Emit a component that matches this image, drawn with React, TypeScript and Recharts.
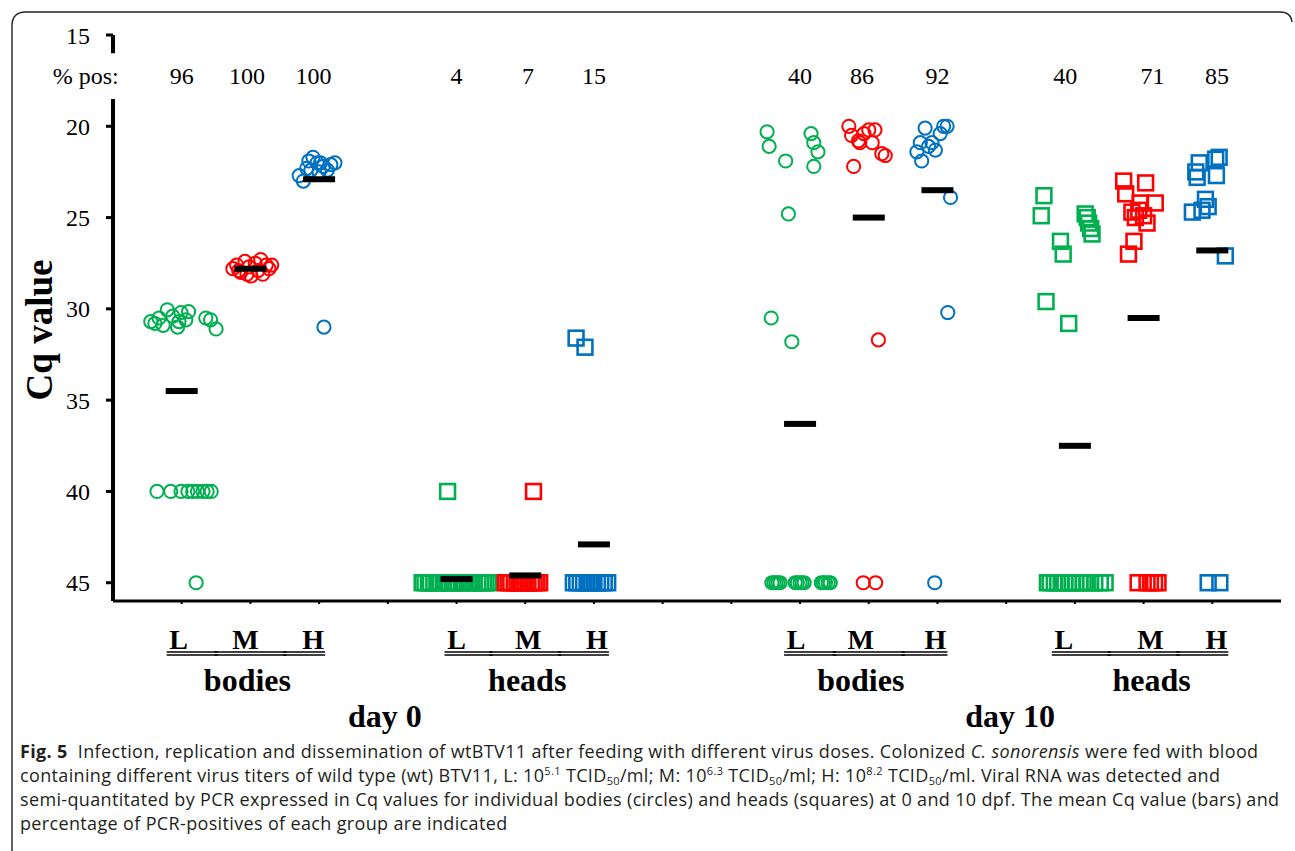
import React from "react";
import { ScatterChart, Scatter, XAxis, YAxis, ReferenceLine } from "recharts";

type Pt = { x: number; y: number };

const GREEN = "#00b050";
const RED = "#ff0000";
const BLUE = "#0070c0";
const SERIF = '"Liberation Serif", "Times New Roman", serif';

// day 0 - bodies (circles)
const d0BodyL: Pt[] = [
  { x: 0.55, y: 30.7 }, { x: 0.61, y: 30.8 }, { x: 0.67, y: 30.5 }, { x: 0.73, y: 30.9 },
  { x: 0.79, y: 30.05 }, { x: 0.87, y: 30.4 }, { x: 0.94, y: 31.0 }, { x: 0.96, y: 30.7 },
  { x: 0.99, y: 30.2 }, { x: 1.06, y: 30.6 }, { x: 1.1, y: 30.15 }, { x: 1.35, y: 30.5 },
  { x: 1.42, y: 30.6 }, { x: 1.5, y: 31.1 },
  { x: 0.64, y: 40 }, { x: 0.84, y: 40 }, { x: 0.99, y: 40 }, { x: 1.09, y: 40 }, { x: 1.16, y: 40 },
  { x: 1.23, y: 40 }, { x: 1.31, y: 40 }, { x: 1.37, y: 40 }, { x: 1.43, y: 40 },
  { x: 1.21, y: 45 },
];
const d0BodyM: Pt[] = [
  { x: 1.745, y: 27.8 }, { x: 1.8, y: 27.6 }, { x: 1.83, y: 27.9 }, { x: 1.86, y: 28.0 },
  { x: 1.92, y: 27.4 }, { x: 1.95, y: 28.1 }, { x: 1.98, y: 27.7 }, { x: 2.01, y: 28.2 },
  { x: 2.07, y: 27.5 }, { x: 2.11, y: 27.9 }, { x: 2.15, y: 27.3 }, { x: 2.18, y: 28.1 },
  { x: 2.23, y: 27.6 }, { x: 2.27, y: 27.8 }, { x: 2.31, y: 27.6 },
];
const d0BodyH: Pt[] = [
  { x: 2.71, y: 22.7 }, { x: 2.77, y: 23.0 }, { x: 2.82, y: 22.3 }, { x: 2.85, y: 21.9 },
  { x: 2.88, y: 22.4 }, { x: 2.91, y: 21.7 }, { x: 2.97, y: 22.0 }, { x: 3.0, y: 22.5 },
  { x: 3.02, y: 22.0 }, { x: 3.06, y: 22.2 }, { x: 3.12, y: 22.4 }, { x: 3.17, y: 22.1 },
  { x: 3.23, y: 22.0 }, { x: 3.07, y: 31.0 },
];

// day 0 - heads (squares)
const d0HeadL: Pt[] = [
  { x: 4.87, y: 40 },
  { x: 4.5, y: 45 }, { x: 4.54, y: 45 }, { x: 4.59, y: 45 }, { x: 4.62, y: 45 }, { x: 4.67, y: 45 },
  { x: 4.72, y: 45 }, { x: 4.76, y: 45 }, { x: 4.81, y: 45 }, { x: 4.86, y: 45 }, { x: 4.89, y: 45 },
  { x: 4.94, y: 45 }, { x: 4.99, y: 45 }, { x: 5.03, y: 45 }, { x: 5.08, y: 45 }, { x: 5.12, y: 45 },
  { x: 5.17, y: 45 }, { x: 5.21, y: 45 }, { x: 5.26, y: 45 }, { x: 5.31, y: 45 }, { x: 5.35, y: 45 },
  { x: 5.39, y: 45 }, { x: 5.43, y: 45 }, { x: 5.47, y: 45 },
];
const d0HeadM: Pt[] = [
  { x: 6.12, y: 40 },
  { x: 5.71, y: 45 }, { x: 5.75, y: 45 }, { x: 5.79, y: 45 }, { x: 5.84, y: 45 }, { x: 5.88, y: 45 },
  { x: 5.92, y: 45 }, { x: 5.96, y: 45 }, { x: 6.0, y: 45 }, { x: 6.04, y: 45 }, { x: 6.09, y: 45 },
  { x: 6.13, y: 45 }, { x: 6.17, y: 45 }, { x: 6.21, y: 45 },
];
const d0HeadH: Pt[] = [
  { x: 6.74, y: 31.6 }, { x: 6.87, y: 32.1 },
  { x: 6.7, y: 45 }, { x: 6.75, y: 45 }, { x: 6.8, y: 45 }, { x: 6.85, y: 45 }, { x: 6.9, y: 45 },
  { x: 6.95, y: 45 }, { x: 7.0, y: 45 }, { x: 7.05, y: 45 }, { x: 7.1, y: 45 }, { x: 7.15, y: 45 },
  { x: 7.2, y: 45 },
];

// day 10 - bodies (circles)
const d10BodyL: Pt[] = [
  { x: 9.52, y: 20.3 }, { x: 9.55, y: 21.1 }, { x: 9.79, y: 21.9 }, { x: 10.16, y: 20.4 },
  { x: 10.2, y: 20.9 }, { x: 10.26, y: 21.4 }, { x: 10.2, y: 22.2 }, { x: 9.83, y: 24.8 },
  { x: 9.58, y: 30.5 }, { x: 9.88, y: 31.8 },
  { x: 9.59, y: 45 }, { x: 9.62, y: 45 }, { x: 9.65, y: 45 }, { x: 9.68, y: 45 }, { x: 9.71, y: 45 },
  { x: 9.93, y: 45 }, { x: 9.96, y: 45 }, { x: 10.0, y: 45 }, { x: 10.03, y: 45 }, { x: 10.06, y: 45 },
  { x: 10.31, y: 45 }, { x: 10.34, y: 45 }, { x: 10.37, y: 45 }, { x: 10.41, y: 45 }, { x: 10.44, y: 45 },
];
const d10BodyM: Pt[] = [
  { x: 10.71, y: 20.0 }, { x: 10.75, y: 20.5 }, { x: 10.78, y: 22.2 }, { x: 10.85, y: 20.8 },
  { x: 10.87, y: 20.9 }, { x: 10.93, y: 20.4 }, { x: 11.0, y: 20.2 }, { x: 11.05, y: 20.9 },
  { x: 11.09, y: 20.2 }, { x: 11.14, y: 31.7 }, { x: 11.19, y: 21.5 }, { x: 11.24, y: 21.6 },
  { x: 10.92, y: 45 }, { x: 11.1, y: 45 },
];
const d10BodyH: Pt[] = [
  { x: 11.7, y: 21.4 }, { x: 11.75, y: 20.9 }, { x: 11.77, y: 21.9 }, { x: 11.82, y: 20.1 },
  { x: 11.87, y: 21.1 }, { x: 11.92, y: 20.9 }, { x: 11.97, y: 21.3 }, { x: 12.04, y: 20.4 },
  { x: 12.09, y: 20.0 }, { x: 12.14, y: 20.0 }, { x: 12.15, y: 30.2 }, { x: 12.19, y: 23.9 },
  { x: 11.96, y: 45 },
];

// day 10 - heads (squares)
const d10HeadL: Pt[] = [
  { x: 13.51, y: 24.9 }, { x: 13.55, y: 23.8 }, { x: 13.58, y: 29.6 }, { x: 13.79, y: 26.3 },
  { x: 13.83, y: 27.0 }, { x: 13.91, y: 30.8 }, { x: 14.15, y: 24.8 }, { x: 14.18, y: 25.0 },
  { x: 14.2, y: 25.3 }, { x: 14.23, y: 25.6 }, { x: 14.25, y: 25.9 },
  { x: 13.6, y: 45 }, { x: 13.64, y: 45 }, { x: 13.7, y: 45 }, { x: 13.75, y: 45 }, { x: 13.8, y: 45 },
  { x: 13.85, y: 45 }, { x: 13.91, y: 45 }, { x: 13.96, y: 45 }, { x: 14.01, y: 45 }, { x: 14.07, y: 45 },
  { x: 14.12, y: 45 }, { x: 14.18, y: 45 }, { x: 14.23, y: 45 }, { x: 14.29, y: 45 }, { x: 14.37, y: 45 },
  { x: 14.44, y: 45 },
];
const d10HeadM: Pt[] = [
  { x: 14.71, y: 23.0 }, { x: 14.74, y: 23.7 }, { x: 14.78, y: 27.0 }, { x: 14.83, y: 24.7 },
  { x: 14.86, y: 26.3 }, { x: 14.88, y: 25.0 }, { x: 14.93, y: 24.6 }, { x: 14.95, y: 24.2 },
  { x: 15.0, y: 24.9 }, { x: 15.03, y: 23.1 }, { x: 15.05, y: 25.3 }, { x: 15.17, y: 24.2 },
  { x: 14.92, y: 45 }, { x: 15.05, y: 45 }, { x: 15.1, y: 45 }, { x: 15.16, y: 45 }, { x: 15.21, y: 45 },
];
const d10HeadH: Pt[] = [
  { x: 15.71, y: 24.7 }, { x: 15.76, y: 22.5 }, { x: 15.78, y: 22.8 }, { x: 15.81, y: 22.0 },
  { x: 15.85, y: 24.6 }, { x: 15.9, y: 24.0 }, { x: 15.94, y: 24.4 }, { x: 16.05, y: 21.8 },
  { x: 16.06, y: 22.7 }, { x: 16.1, y: 21.7 }, { x: 16.19, y: 27.1 },
  { x: 15.94, y: 45 }, { x: 16.11, y: 45 },
];

// group means (bars)
const MEAN_X = [1, 2, 3, 5, 6, 7, 10, 11, 12, 14, 15, 16];
const MEAN_CQ = [34.5, 27.8, 22.9, 44.8, 44.6, 42.9, 36.3, 25.0, 23.5, 37.5, 30.5, 26.8];

// % positive row
const POS_X = [1, 1.95, 2.92, 5.0, 6.04, 7.0, 10.0, 10.9, 12.0, 13.86, 15.13, 16.07];
const POS_LABELS = ["96", "100", "100", "4", "7", "15", "40", "86", "92", "40", "71", "85"];
const POS_ROW_CQ = 17.25;

// axis labels
const X_TICKS = [1, 2, 3, 4, 5, 6, 7, 8, 9, 10, 11, 12, 13, 14, 15, 16];
const Y_TICKS = [15, 20, 25, 30, 35, 40, 45];
const DOSE_TICKS = [1, 2, 3, 5, 6, 7, 10, 11, 12, 14, 15, 16];
const DOSE_NAMES = ["L", "M", "H", "L", "M", "H", "L", "M", "H", "L", "M", "H"];
const GROUP_TICKS = [2, 6, 11, 15];
const GROUP_NAMES = ["bodies", "heads", "bodies", "heads"];
const DAY_TICKS = [4, 13];
const DAY_NAMES = ["day 0", "day 10"];

// small pixel nudges so labels sit where the original put them
const DOSE_DX = [-3, -5, -6, 0, 3, 3, -4, -8, -2, -11, 7, 4];
const GROUP_DX = [-3, 2, -8, 8];
const DAY_DX = [-3, 4];

const meanData = MEAN_X.map((x, i) => ({ x, y: MEAN_CQ[i] }));
const posData = POS_X.map((x, i) => ({ x, y: POS_ROW_CQ, pct: POS_LABELS[i], lead: i === 0 }));

const circle = (color: string) => (p: any) => (
  <circle cx={p.cx} cy={p.cy} r={6.6} fill="none" stroke={color} strokeWidth={2} />
);
const square = (color: string) => (p: any) => (
  <rect x={p.cx - 7.4} y={p.cy - 7.4} width={14.8} height={14.8} fill="none" stroke={color} strokeWidth={2.6} />
);
const meanBar = (p: any) => <rect x={p.cx - 16} y={p.cy - 3} width={32} height={6} fill="#000" />;

const posText = (p: any) => {
  const d = p.payload ?? p;
  return (
    <g>
      {d.lead && (
        <text x={p.cx - 63} y={p.cy} textAnchor="end" dominantBaseline="central" fontFamily={SERIF} fontSize={24} fill="#000">
          % pos:
        </text>
      )}
      <text x={p.cx} y={p.cy} textAnchor="middle" dominantBaseline="central" fontFamily={SERIF} fontSize={24} fill="#000">
        {d.pct}
      </text>
    </g>
  );
};

function DoseTick(props: any) {
  const { x, y, payload } = props;
  const v = payload.value;
  const di = DOSE_TICKS.indexOf(v);
  const gi = GROUP_TICKS.indexOf(v);
  const dy = DAY_TICKS.indexOf(v);
  let u1 = 0;
  let u2 = 0;
  if (di >= 0) {
    const pos = di % 3;
    u1 = pos === 0 ? x + DOSE_DX[di] - 12 : x - 36;
    u2 = pos === 2 ? x + DOSE_DX[di] + 12 : x + 36;
  }
  return (
    <g>
      {di >= 0 && (
        <g>
          <text x={x + DOSE_DX[di]} y={y + 45} textAnchor="middle" fontFamily={SERIF} fontWeight="bold" fontSize={28} fill="#000">
            {DOSE_NAMES[di]}
          </text>
          <line x1={u1} x2={u2} y1={y + 48} y2={y + 48} stroke="#000" strokeWidth={1.3} />
          <line x1={u1} x2={u2} y1={y + 51} y2={y + 51} stroke="#000" strokeWidth={1.3} />
        </g>
      )}
      {gi >= 0 && (
        <text x={x + GROUP_DX[gi]} y={y + 87} textAnchor="middle" fontFamily={SERIF} fontWeight="bold" fontSize={32} fill="#000">
          {GROUP_NAMES[gi]}
        </text>
      )}
      {dy >= 0 && (
        <text x={x + DAY_DX[dy]} y={y + 123} textAnchor="middle" fontFamily={SERIF} fontWeight="bold" fontSize={32} fill="#000">
          {DAY_NAMES[dy]}
        </text>
      )}
    </g>
  );
}

const sup = (t: string) => (
  <span style={{ fontSize: 11, lineHeight: 1, position: "relative", top: -7 }}>{t}</span>
);
const sub = (t: string) => (
  <span style={{ fontSize: 11, lineHeight: 1, position: "relative", top: 3 }}>{t}</span>
);

function Caption() {
  const line: React.CSSProperties = { position: "absolute", left: 20, whiteSpace: "nowrap", height: 24, lineHeight: "24px" };
  return (
    <div style={{ position: "absolute", left: 0, top: 739, fontFamily: '"Open Sans", sans-serif', fontSize: 18, letterSpacing: 0.35, color: "#231f20" }}>
      <div style={{ ...line, top: 0 }}>
        <b>Fig. 5</b>&nbsp;&nbsp;Infection, replication and dissemination of wtBTV11 after feeding with different virus doses. Colonized <i>C. sonorensis</i> were fed with blood
      </div>
      <div style={{ ...line, top: 24 }}>
        containing different virus titers of wild type (wt) BTV11, L: 10{sup("5.1")} TCID{sub("50")}/ml; M: 10{sup("6.3")} TCID{sub("50")}/ml; H: 10{sup("8.2")} TCID{sub("50")}/ml. Viral RNA was detected and
      </div>
      <div style={{ ...line, top: 48 }}>
        semi-quantitated by PCR expressed in Cq values for individual bodies (circles) and heads (squares) at 0 and 10 dpf. The mean Cq value (bars) and
      </div>
      <div style={{ ...line, top: 72 }}>percentage of PCR-positives of each group are indicated</div>
    </div>
  );
}

export default function App() {
  return (
    <div style={{ position: "absolute", left: 0, top: 0, width: 1295, height: 851, background: "#fff", overflow: "hidden" }}>
      <svg width={1295} height={851} style={{ position: "absolute", left: 0, top: 0 }}>
        <path d="M 12 851 L 12 26 Q 12 12 26 12 L 1280 12 Q 1291 12 1292 22" fill="none" stroke="#231f20" strokeWidth={1.4} />
        <text transform="translate(52 330) rotate(-90)" textAnchor="middle" fontFamily={SERIF} fontWeight="bold" fontSize={37} fill="#000">
          Cq value
        </text>
      </svg>
      <div style={{ position: "absolute", left: 0, top: 0 }}>
        <ScatterChart width={1295} height={745} margin={{ top: 35, right: 14, bottom: 0, left: 53 }}>
          <XAxis
            type="number"
            dataKey="x"
            domain={[0, 17]}
            ticks={X_TICKS}
            interval={0}
            height={144}
            tickSize={3}
            tickMargin={0}
            axisLine={{ stroke: "#000", strokeWidth: 3 }}
            tickLine={{ stroke: "#000", strokeWidth: 2 }}
            tick={<DoseTick />}
          />
          <YAxis
            type="number"
            dataKey="y"
            reversed
            domain={[15, 46]}
            ticks={Y_TICKS}
            interval={0}
            width={60}
            tickSize={7}
            tickMargin={16}
            axisLine={false}
            tickLine={{ stroke: "#000", strokeWidth: 3 }}
            tick={{ fontFamily: SERIF, fontSize: 24, fill: "#000" }}
          />
          <ReferenceLine segment={[{ x: 0, y: 15 }, { x: 0, y: 16 }]} stroke="#000" strokeWidth={4} ifOverflow="visible" />
          <ReferenceLine segment={[{ x: 0, y: 18.5 }, { x: 0, y: 46 }]} stroke="#000" strokeWidth={4} ifOverflow="visible" />

          <Scatter data={d0BodyL} shape={circle(GREEN)} isAnimationActive={false} />
          <Scatter data={d0BodyM} shape={circle(RED)} isAnimationActive={false} />
          <Scatter data={d0BodyH} shape={circle(BLUE)} isAnimationActive={false} />
          <Scatter data={d0HeadL} shape={square(GREEN)} isAnimationActive={false} />
          <Scatter data={d0HeadM} shape={square(RED)} isAnimationActive={false} />
          <Scatter data={d0HeadH} shape={square(BLUE)} isAnimationActive={false} />
          <Scatter data={d10BodyL} shape={circle(GREEN)} isAnimationActive={false} />
          <Scatter data={d10BodyM} shape={circle(RED)} isAnimationActive={false} />
          <Scatter data={d10BodyH} shape={circle(BLUE)} isAnimationActive={false} />
          <Scatter data={d10HeadL} shape={square(GREEN)} isAnimationActive={false} />
          <Scatter data={d10HeadM} shape={square(RED)} isAnimationActive={false} />
          <Scatter data={d10HeadH} shape={square(BLUE)} isAnimationActive={false} />
          <Scatter data={meanData} shape={meanBar} isAnimationActive={false} />
          <Scatter data={posData} shape={posText} isAnimationActive={false} />
        </ScatterChart>
      </div>
      <Caption />
    </div>
  );
}
